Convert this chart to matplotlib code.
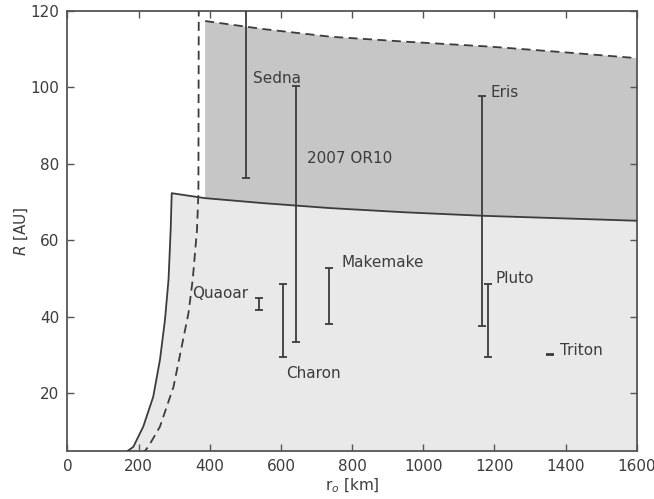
import matplotlib
matplotlib.use('Agg')
import matplotlib.pyplot as plt

# inner (solid) boundary of the allowed region, r_o [km] vs R [AU]
edge_r = [170, 185, 213, 241, 260, 274, 284, 290, 293]
edge_R = [5.0, 6.0, 11.3, 19.1, 28.8, 39.2, 49.7, 62.7, 72.3]

# upper solid boundary
upper_r = [293, 387, 550, 739, 950, 1166, 1400, 1600]
upper_R = [72.3, 71.0, 69.7, 68.4, 67.3, 66.4, 65.7, 65.1]

# dashed boundary on the left
dash_r = [209, 227, 260, 298, 321, 340, 352, 364, 368, 369]
dash_R = [4.0, 6.0, 11.3, 21.7, 32.2, 40.9, 49.7, 62.7, 72.3, 121.0]

# dashed top of the dark band
top_r = [387, 550, 739, 950, 1189, 1400, 1600]
top_R = [117.3, 115.2, 113.2, 111.9, 110.6, 109.1, 107.6]

# objects: radius and range in R
names = ['Sedna', '2007 OR10', 'Quaoar', 'Charon', 'Makemake', 'Eris', 'Pluto', 'Triton']
radius = [501, 643, 537, 607, 736, 1166, 1182, 1356]
R_low = [76.2, 33.3, 41.8, 29.6, 38.1, 37.7, 29.6, 30.0]
R_high = [135.0, 100.3, 44.8, 48.5, 52.8, 97.8, 48.5, 30.4]
label_r = [521, 673, 350, 615, 770, 1189, 1203, 1384]
label_R = [102.3, 81.4, 46.1, 25.1, 54.1, 98.7, 49.9, 31.3]

ink = '#3c3c3c'
plt.rcParams['font.family'] = 'DejaVu Sans'
plt.rcParams['font.size'] = 11

fig = plt.figure(figsize=(6.54, 4.99), dpi=100)
ax = fig.add_axes([0.1032, 0.0968, 0.8703, 0.8818])

# light region below the solid boundary
light_x = edge_r + upper_r[1:] + [1600]
light_y = edge_R + upper_R[1:] + [0]
ax.fill(light_x + [edge_r[0]], light_y + [0], color='#e9e9e9', lw=0, zorder=1)

# dark band between solid line and dashed top
dark_x = top_r + [r for r in upper_r[::-1] if r >= 387]
dark_y = top_R + [R for r, R in zip(upper_r[::-1], upper_R[::-1]) if r >= 387]
ax.fill(dark_x, dark_y, color='#c6c6c6', lw=0, zorder=1)

ax.plot(edge_r + upper_r, edge_R + upper_R, color=ink, lw=1.3, zorder=3)
ax.plot(dash_r, dash_R, color=ink, lw=1.3, dashes=(5, 3), zorder=3)
ax.plot(top_r, top_R, color=ink, lw=1.3, dashes=(5, 3), zorder=3)

for i in range(len(names)):
    mid = (R_low[i] + R_high[i]) / 2
    half = (R_high[i] - R_low[i]) / 2
    ax.errorbar(radius[i], mid, yerr=half, fmt='none', ecolor=ink,
                elinewidth=1.3, capsize=2.6, capthick=1.3, zorder=4)
    ax.text(label_r[i], label_R[i], names[i], color=ink, fontsize=11,
            ha='left', va='center', zorder=5)

ax.set_xlim(0, 1600)
ax.set_ylim(5, 120)
ax.set_xticks(range(0, 1601, 200))
ax.set_yticks([20, 40, 60, 80, 100, 120])
ax.tick_params(direction='in', top=True, right=True, length=5, width=1,
               color='#555555', labelcolor=ink, labelsize=11, pad=6)
for s in ax.spines.values():
    s.set_color('#555555')
    s.set_linewidth(1.3)

ax.set_xlabel('r$_o$ [km]', color=ink, fontsize=11, labelpad=2)
ax.set_ylabel('$R$ [AU]', color=ink, fontsize=11, labelpad=0)

fig.savefig('out.png', dpi=100, facecolor='white')
